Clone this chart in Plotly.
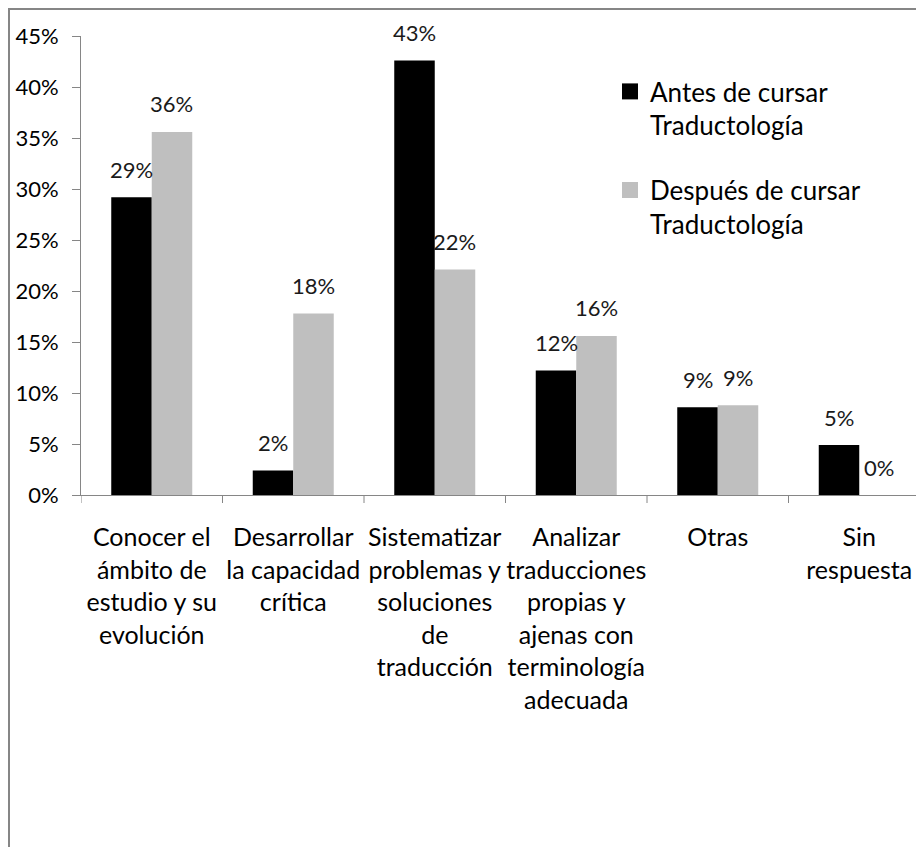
import plotly.graph_objects as go

categories = [
    "Conocer el<br>ámbito de<br>estudio y su<br>evolución",
    "Desarrollar<br>la capacidad<br>crítica",
    "Sistematizar<br>problemas y<br>soluciones<br>de<br>traducción",
    "Analizar<br>traducciones<br>propias y<br>ajenas con<br>terminología<br>adecuada",
    "Otras",
    "Sin<br>respuesta",
]
series_names = ["Antes de cursar<br>Traductología", "Después de cursar<br>Traductología"]
antes = [0.292, 0.024, 0.426, 0.122, 0.086, 0.049]
despues = [0.356, 0.178, 0.221, 0.156, 0.088, 0.0]
y_ticks = [0, 0.05, 0.10, 0.15, 0.20, 0.25, 0.30, 0.35, 0.40, 0.45]
y_tick_labels = ["0%", "5%", "10%", "15%", "20%", "25%", "30%", "35%", "40%", "45%"]

FONT = "Lato, 'Open Sans', sans-serif"
BLACK = "#000000"
GRAY = "#BFBFBF"
AXIS = "#868686"

# page body has an 8px margin, so the figure is sized to fit the window
W, H = 916, 839
ML, MR, MT, MB = 73, 0, 28, 352
PW, PH = W - ML - MR, H - MT - MB
cat_px = 141.5
xmax = -0.5 + PW / cat_px

fig = go.Figure()
xs = list(range(len(categories)))
fig.add_trace(go.Bar(x=xs, y=antes, marker=dict(color=BLACK, line=dict(width=0)),
                     showlegend=False, hoverinfo="skip"))
fig.add_trace(go.Bar(x=xs, y=despues, marker=dict(color=GRAY, line=dict(width=0)),
                     showlegend=False, hoverinfo="skip"))
# legend entries
for name, col, grp in [(series_names[0], BLACK, "a"), (series_names[1], GRAY, "b")]:
    fig.add_trace(go.Scatter(x=[None], y=[None], mode="markers", name=name,
                             legendgroup=grp,
                             marker=dict(symbol="square", size=16, color=col)))

bargap = 0.4276
bar_px = cat_px * (1 - bargap) / 2
annotations = []
for i in xs:
    for vals, sgn in [(antes, -1), (despues, 1)]:
        annotations.append(dict(
            x=i, y=vals[i], xref="x", yref="y", text=f"{vals[i]:.0%}",
            showarrow=False, xshift=sgn * bar_px / 2, yshift=28, yanchor="middle",
            font=dict(family=FONT, size=22, color="#1a1a1a")))

fig.update_layout(
    width=W, height=H,
    margin=dict(l=ML, r=MR, t=MT, b=MB, autoexpand=False),
    paper_bgcolor="white", plot_bgcolor="white",
    barmode="group", bargap=bargap, bargroupgap=0,
    font=dict(family=FONT, color="#000000"),
    annotations=annotations,
    legend=dict(x=(602 - ML) / PW, xanchor="left", y=1 - (60 - MT) / PH, yanchor="top",
                font=dict(family=FONT, size=26, color="#000000"),
                valign="top", tracegroupgap=28, bgcolor="rgba(0,0,0,0)"),
    xaxis=dict(type="linear", range=[-0.5, xmax], tickmode="array", tickvals=xs,
               ticktext=categories, showgrid=False, zeroline=False, automargin=False,
               showline=True, linecolor=AXIS, linewidth=1,
               ticks="", tickfont=dict(family=FONT, size=25, color="#000000"),
               ticklabelstandoff=20),
    yaxis=dict(range=[0, 0.45], tickmode="array", tickvals=y_ticks, ticktext=y_tick_labels,
               showgrid=False, zeroline=False, showline=True, linecolor=AXIS, linewidth=1,
               automargin=False,
               ticks="outside", ticklen=8, tickcolor=AXIS,
               tickfont=dict(family=FONT, size=22, color="#000000"),
               ticklabelstandoff=9),
    shapes=[
        # chart border
        dict(type="rect", xref="paper", yref="paper",
             x0=(1 - ML) / PW, x1=1.2, y0=-2, y1=1 + (MT - 1) / PH,
             line=dict(color=AXIS, width=2), fillcolor="rgba(0,0,0,0)", layer="below"),
    ],
)
# category boundary ticks on x axis
for b in range(len(categories) + 1):
    xb = b - 0.5
    if xb <= xmax:
        fig.add_shape(type="line", xref="x", yref="paper", x0=xb, x1=xb, y0=0, y1=-8 / PH,
                      line=dict(color=AXIS, width=1))

fig.write_html("out.html")
